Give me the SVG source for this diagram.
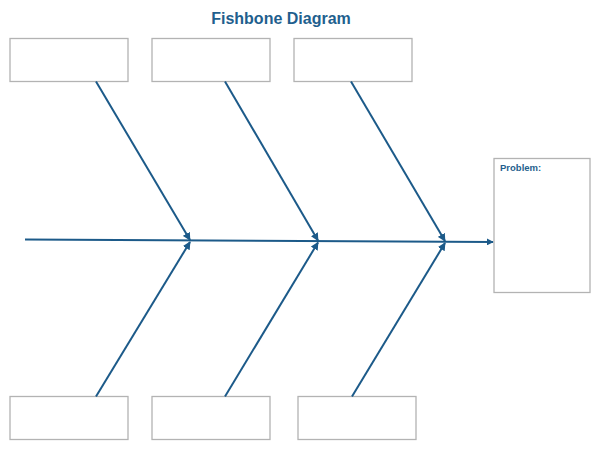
<svg xmlns="http://www.w3.org/2000/svg" width="600" height="464" viewBox="0 0 600 464">
<style>
.box{fill:#fff;stroke:#b3b3b3;stroke-width:1.3}
.bone{stroke:#1c5a89;stroke-width:2;fill:none}
.title{font-family:"Liberation Sans",Arial,sans-serif;font-weight:bold;font-size:16px;fill:#1f5f8e}
.lbl{font-family:"Liberation Sans",Arial,sans-serif;font-weight:bold;font-size:9.5px;fill:#1f5f8e}
</style>
<defs>
<marker id="ah" viewBox="0 0 10 10" refX="9" refY="5" markerWidth="4" markerHeight="4" orient="auto" markerUnits="strokeWidth">
<path d="M0,0 L10,5 L0,10 z" fill="#1c5a89"/>
</marker>
<marker id="ahs" viewBox="0 0 10 10" refX="9" refY="5" markerWidth="3.5" markerHeight="3.5" orient="auto" markerUnits="strokeWidth">
<path d="M0,0 L10,5 L0,10 z" fill="#1c5a89"/>
</marker>
</defs>
<rect width="600" height="464" fill="#fff"/>
<text class="title" x="281" y="24" text-anchor="middle">Fishbone Diagram</text>
<g id="cause1"><rect class="box" x="10" y="38.5" width="118" height="43"/></g>
<g id="cause2"><rect class="box" x="152" y="38.5" width="118" height="43"/></g>
<g id="cause3"><rect class="box" x="294" y="38.5" width="118" height="43"/></g>
<g id="cause4"><rect class="box" x="10" y="396.5" width="118" height="43"/></g>
<g id="cause5"><rect class="box" x="152" y="396.5" width="118" height="43"/></g>
<g id="cause6"><rect class="box" x="298" y="396.5" width="118" height="43"/></g>
<g id="problem"><rect class="box" x="494" y="158.5" width="96" height="134"/>
<text class="lbl" x="500" y="171">Problem:</text></g>
<g id="connectors">
<line class="bone" x1="25" y1="239.5" x2="493" y2="242" stroke-width="2.8" marker-end="url(#ahs)"/>
<line class="bone" x1="96" y1="81.5" x2="190" y2="240" marker-end="url(#ah)"/>
<line class="bone" x1="225" y1="81.5" x2="318" y2="240.5" marker-end="url(#ah)"/>
<line class="bone" x1="351" y1="81.5" x2="445" y2="241" marker-end="url(#ah)"/>
<line class="bone" x1="96" y1="396.5" x2="190" y2="242" marker-end="url(#ah)"/>
<line class="bone" x1="225" y1="396.5" x2="318" y2="242.5" marker-end="url(#ah)"/>
<line class="bone" x1="352" y1="396.5" x2="445" y2="243" marker-end="url(#ah)"/>
</g>
</svg>
